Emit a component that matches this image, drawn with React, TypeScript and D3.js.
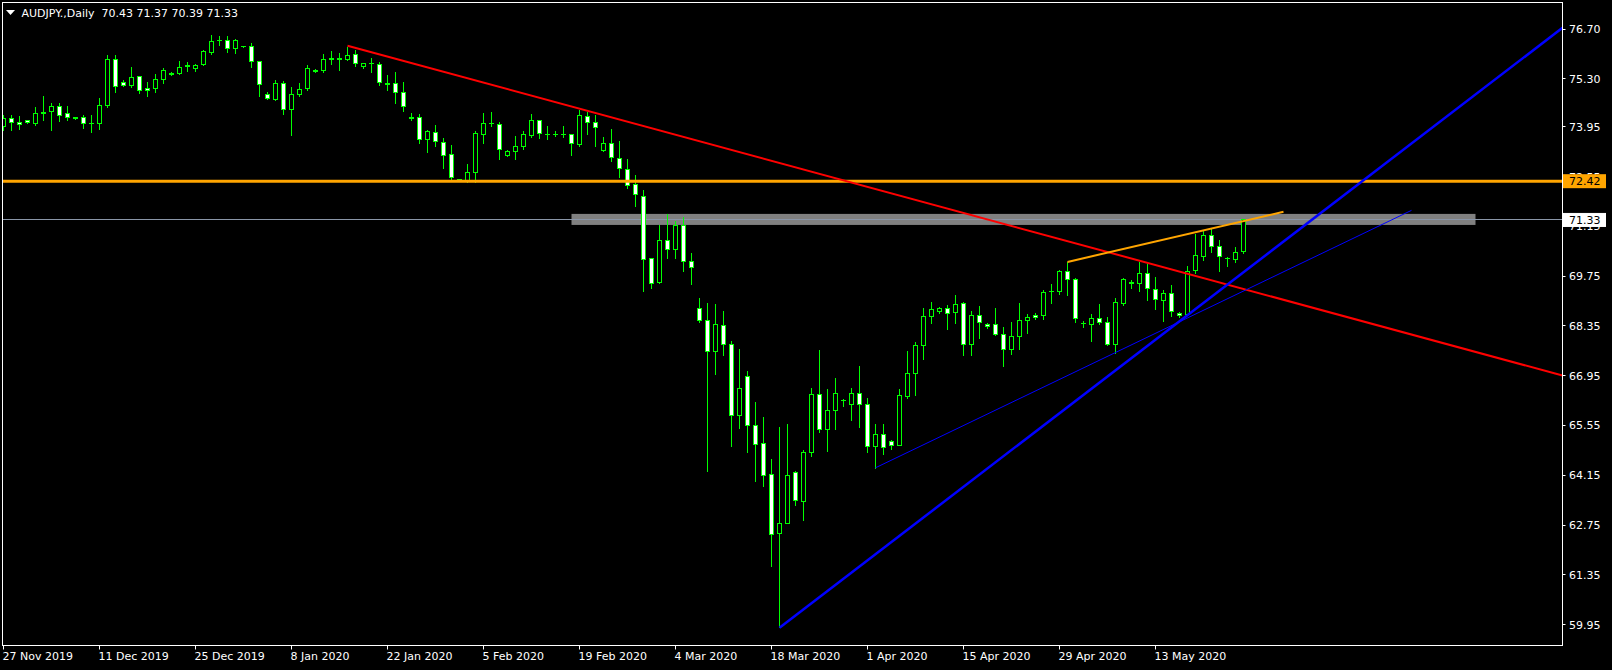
import React from 'react';
import * as d3 from 'd3';

// daily bars, 27 Nov 2019 .. 26 May 2020 (broker feed with Sunday bars)
const barOpen = [
  73.95, 74.19, 74.08, 74.13, 74.04, 74.33, 74.38, 74.51, 74.31, 74.22,
  74.20, 74.05, 74.05, 74.56, 75.85, 75.20, 75.10, 75.37, 75.04, 75.02,
  75.28, 75.46, 75.45, 75.64, 75.60, 75.70, 76.05, 76.38, 76.37, 76.16,
  76.21, 76.21, 75.80, 74.86, 74.73, 75.18, 74.45, 74.85, 75.02, 75.54,
  75.53, 75.85, 75.86, 75.84, 75.99, 75.65, 75.73, 75.71, 75.15, 75.17,
  74.92, 74.21, 74.22, 73.59, 73.80, 73.51, 73.18, 72.48, 72.45, 72.66,
  73.73, 74.03, 74.02, 73.15, 73.25, 73.39, 73.70, 74.13, 73.74, 73.73,
  73.74, 73.74, 73.45, 74.24, 74.07, 73.28, 73.48, 73.06, 72.75, 72.33,
  71.99, 70.25, 69.57, 70.74, 70.50, 71.18, 70.17, 68.84, 68.51, 67.63,
  68.35, 67.84, 65.83, 66.93, 65.55, 65.05, 64.18, 62.52, 62.80, 64.23,
  63.42, 64.79, 66.43, 65.44, 65.98, 66.25, 66.15, 66.45, 66.15, 64.96,
  65.30, 65.10, 64.99, 66.36, 67.02, 67.80, 68.62, 68.76, 68.84, 68.73,
  68.99, 67.83, 68.65, 68.40, 68.39, 68.11, 67.69, 68.06, 68.51, 68.65,
  68.65, 69.31, 69.31, 69.89, 69.66, 68.42, 68.39, 68.56, 68.45, 67.83,
  68.99, 69.55, 69.55, 69.83, 69.38, 69.06, 69.27, 68.70, 68.66, 69.90,
  70.30, 70.90, 70.59, 70.24, 70.21, 70.43,
];
const barHigh = [
  74.28, 74.28, 74.25, 74.14, 74.51, 74.82, 74.62, 74.62, 74.53, 74.23,
  74.28, 74.28, 74.75, 75.97, 75.97, 75.26, 75.63, 75.37, 75.20, 75.43,
  75.59, 75.49, 75.80, 75.76, 75.71, 76.11, 76.53, 76.50, 76.50, 76.43,
  76.22, 76.30, 75.80, 74.92, 75.27, 75.24, 75.06, 75.18, 75.69, 75.57,
  76.00, 76.08, 76.02, 76.20, 76.11, 75.75, 75.88, 75.78, 75.40, 75.49,
  75.20, 74.33, 74.31, 73.86, 74.00, 73.64, 73.44, 72.49, 72.91, 73.83,
  74.33, 74.36, 74.08, 73.30, 73.70, 73.84, 74.30, 74.13, 73.97, 73.83,
  73.97, 73.75, 74.42, 74.37, 74.28, 73.67, 73.88, 73.54, 73.03, 72.58,
  72.17, 70.25, 71.19, 71.49, 71.30, 71.41, 70.40, 69.14, 69.00, 68.97,
  68.76, 67.93, 67.70, 67.07, 66.21, 65.79, 64.61, 65.50, 65.59, 64.27,
  64.86, 66.61, 67.67, 66.57, 66.89, 66.29, 66.60, 67.22, 66.31, 65.59,
  65.59, 65.14, 66.58, 67.64, 67.89, 68.84, 69.02, 68.88, 68.93, 69.21,
  69.02, 68.77, 68.90, 68.43, 68.84, 68.31, 68.45, 69.00, 68.69, 68.70,
  69.36, 69.53, 69.92, 70.15, 69.69, 68.50, 68.69, 68.97, 68.59, 69.13,
  69.70, 69.63, 70.16, 70.09, 69.73, 69.36, 69.50, 68.75, 70.04, 70.93,
  71.02, 71.08, 70.77, 70.30, 70.56, 71.37,
];
const barLow = [
  73.86, 73.86, 73.90, 74.05, 74.01, 74.14, 73.86, 74.12, 74.14, 74.16,
  73.92, 73.79, 73.90, 74.52, 74.94, 75.10, 75.06, 74.91, 74.82, 74.94,
  75.17, 75.41, 75.43, 75.53, 75.52, 75.69, 76.00, 76.25, 76.05, 76.03,
  76.20, 75.64, 74.81, 74.74, 74.70, 74.31, 73.72, 74.81, 74.98, 75.48,
  75.50, 75.72, 75.55, 75.82, 75.67, 75.61, 75.50, 75.13, 74.98, 74.63,
  74.39, 74.14, 73.50, 73.25, 73.42, 72.78, 72.46, 72.45, 72.41, 72.41,
  73.50, 73.96, 73.04, 73.13, 73.04, 73.33, 73.65, 73.63, 73.60, 73.69,
  73.66, 73.16, 73.42, 73.75, 73.42, 73.28, 72.98, 72.53, 72.22, 71.72,
  69.34, 69.41, 69.57, 70.27, 70.27, 69.90, 69.53, 68.47, 64.28, 67.00,
  67.54, 64.98, 65.49, 64.79, 63.99, 63.86, 61.61, 59.87, 62.80, 63.30,
  62.88, 64.69, 65.38, 64.84, 65.44, 66.11, 65.69, 65.52, 64.81, 64.36,
  64.75, 64.89, 64.99, 66.33, 66.41, 67.43, 68.44, 68.70, 68.27, 68.44,
  67.54, 67.54, 68.02, 68.30, 68.09, 67.23, 67.57, 67.71, 68.16, 68.55,
  68.54, 68.99, 69.24, 69.21, 68.45, 68.33, 67.93, 68.41, 67.80, 67.60,
  68.95, 69.43, 69.34, 69.08, 68.83, 68.49, 68.63, 68.61, 68.66, 69.83,
  70.20, 70.44, 69.90, 70.04, 70.16, 70.39,
];
const barClose = [
  74.19, 74.08, 74.01, 74.07, 74.33, 74.36, 74.51, 74.26, 74.22, 74.18,
  74.05, 74.05, 74.55, 75.85, 75.08, 75.12, 75.34, 74.97, 74.97, 75.28,
  75.52, 75.42, 75.62, 75.67, 75.68, 76.07, 76.35, 76.39, 76.16, 76.38,
  76.21, 75.78, 75.14, 74.74, 75.18, 74.45, 74.86, 75.00, 75.59, 75.51,
  75.85, 75.86, 75.85, 75.96, 75.73, 75.72, 75.74, 75.20, 75.17, 74.91,
  74.53, 74.19, 73.60, 73.83, 73.54, 73.15, 72.51, 72.47, 72.67, 73.77,
  74.05, 74.04, 73.30, 73.26, 73.40, 73.74, 74.14, 73.76, 73.73, 73.74,
  73.72, 73.47, 74.26, 74.06, 73.92, 73.49, 73.09, 72.77, 72.30, 72.05,
  70.22, 69.55, 70.74, 70.50, 71.18, 70.16, 70.00, 68.50, 67.63, 68.38,
  67.83, 65.83, 66.60, 65.55, 65.02, 64.14, 62.49, 62.80, 64.15, 63.45,
  64.80, 66.43, 65.44, 65.98, 66.45, 66.24, 66.45, 66.15, 64.96, 65.30,
  64.94, 64.99, 66.40, 67.02, 67.80, 68.62, 68.82, 68.84, 68.70, 68.96,
  67.83, 68.65, 68.45, 68.34, 68.11, 67.69, 68.06, 68.51, 68.59, 68.59,
  69.30, 69.32, 69.89, 69.66, 68.56, 68.42, 68.56, 68.44, 67.83, 69.01,
  69.66, 69.56, 69.83, 69.41, 69.09, 69.27, 68.75, 68.65, 69.89, 70.34,
  70.90, 70.58, 70.30, 70.24, 70.42, 71.33,
];

const dateLabels = [
  '27 Nov 2019', '11 Dec 2019', '25 Dec 2019', '8 Jan 2020', '22 Jan 2020', '5 Feb 2020',
  '19 Feb 2020', '4 Mar 2020', '18 Mar 2020', '1 Apr 2020', '15 Apr 2020', '29 Apr 2020', '13 May 2020',
];
const dateLabelBars = [0, 12, 24, 36, 48, 60, 72, 84, 96, 108, 120, 132, 144];
const priceTicks = [76.70, 75.30, 73.95, 72.55, 71.15, 69.75, 68.35, 66.95, 65.55, 64.15, 62.75, 61.35, 59.95];

const symbolTitle = 'AUDJPY.,Daily';
const lastQuote = [70.43, 71.37, 70.39, 71.33];
const resistanceLevel = 72.42;
const bidPrice = 71.33;

// drawn objects, anchors as [bar index, price]
const redTrend = [[43, 76.23], [155, 69.39]];
const blueTrend = [[97, 59.86], [147, 68.48]];
const blueThin = [[109, 64.36], [176, 71.60]];
const orangeTrend = [[133, 70.15], [160, 71.56]];
const zoneBars = [71, 184];
const zonePrices = [71.19, 71.50];

const W = 1612;
const H = 670;
const plot = { left: 2.5, top: 2.5, right: 1562.5, bottom: 645.5 };
const FONT = '"DejaVu Sans", Tahoma, sans-serif';
const LIME = '#00ff00';

export default function App() {
  const n = barOpen.length;
  const x = d3.scaleLinear().domain([0, n - 1]).range([3.5, 3.5 + 8 * (n - 1)]);
  const y = d3.scaleLinear().domain([59.95, 76.70]).range([624.6, 29]);
  const snap = (v : number) => Math.round(v - 0.5) + 0.5;

  const trend = (pts : number[][], endBar? : number) => {
    const [[b1, p1], [b2, p2]] = pts;
    const slope = (p2 - p1) / (b2 - b1);
    const bEnd = endBar === undefined ? x.invert(plot.right) : endBar;
    return { x1: x(b1), y1: y(p1), x2: x(bEnd), y2: y(p1 + slope * (bEnd - b1)) };
  };

  const candles = d3.range(n).map(i => {
    const o = barOpen[i], c = barClose[i];
    const cx = x(i);
    const top = snap(y(Math.max(o, c)));
    const bot = snap(y(Math.min(o, c)));
    const bull = c >= o;
    return (
      <g key={i}>
        <line x1={cx} x2={cx} y1={Math.round(y(barHigh[i]))} y2={Math.round(y(barLow[i])) + 1} stroke={LIME} />
        {bot - top < 1
          ? <line x1={cx - 2.5} x2={cx + 2.5} y1={top} y2={top} stroke={LIME} />
          : <rect x={cx - 2} y={top} width={4} height={bot - top} fill={bull ? '#000' : '#fff'} stroke={LIME} />}
      </g>
    );
  });

  const red = trend(redTrend);
  const blue = trend(blueTrend);
  const thin = trend(blueThin, blueThin[1][0]);
  const orange = trend(orangeTrend, orangeTrend[1][0]);

  return (
    <svg width={W} height={H} style={{ position: 'absolute', left: 0, top: 0, display: 'block', background: '#000' }}
      fontFamily={FONT} fontSize={11}>
      <defs>
        <clipPath id="plotClip">
          <rect x={plot.left} y={plot.top} width={plot.right - plot.left} height={plot.bottom - plot.top} />
        </clipPath>
      </defs>
      <rect x={0} y={0} width={W} height={H} fill="#000" />

      {/* price axis labels (drawn under the level boxes) */}
      {priceTicks.map(p => (
        <g key={p}>
          <line x1={plot.right} x2={plot.right + 3} y1={snap(y(p))} y2={snap(y(p))} stroke="#fff" />
          <text x={1569} y={y(p) + 4} fill="#fff">{p.toFixed(2)}</text>
        </g>
      ))}

      <g clipPath="url(#plotClip)">
        <rect x={x(zoneBars[0])} y={y(zonePrices[1])} width={x(zoneBars[1]) - x(zoneBars[0])}
          height={y(zonePrices[0]) - y(zonePrices[1])} fill="#808080" />
        <line x1={plot.left} x2={plot.right} y1={snap(y(bidPrice))} y2={snap(y(bidPrice))} stroke="#8a96a8" />
        <g shapeRendering="crispEdges">{candles}</g>
        <line x1={plot.left} x2={plot.right} y1={y(resistanceLevel)} y2={y(resistanceLevel)} stroke="#ffa500" strokeWidth={3} />
        <line {...red} stroke="#ff0000" strokeWidth={2} />
        <line {...blue} stroke="#0000ff" strokeWidth={2.5} />
        <line {...thin} stroke="#0000ff" strokeWidth={1} />
        <line {...orange} stroke="#ffa500" strokeWidth={2} />
      </g>

      {/* frame */}
      <rect x={plot.left} y={plot.top} width={plot.right - plot.left} height={plot.bottom - plot.top}
        fill="none" stroke="#fff" shapeRendering="crispEdges" />

      {/* level boxes on the price axis */}
      <rect x={1563} y={y(resistanceLevel) - 7} width={43} height={14} fill="#ffa500" />
      <text x={1569} y={y(resistanceLevel) + 4} fill="#000">{resistanceLevel.toFixed(2)}</text>
      <rect x={1563.5} y={y(bidPrice) - 6.5} width={42} height={13} fill="#fff" stroke="#fff" />
      <text x={1569} y={y(bidPrice) + 4} fill="#000">{bidPrice.toFixed(2)}</text>

      {/* time axis */}
      {dateLabels.map((d, k) => {
        const tx = x(dateLabelBars[k]);
        return (
          <g key={d}>
            <line x1={tx} x2={tx} y1={plot.bottom} y2={plot.bottom + 4} stroke="#fff" />
            <text x={tx - 1} y={660} fill="#fff">{d}</text>
          </g>
        );
      })}

      {/* title */}
      <path d="M6,10 L15,10 L10.5,15 Z" fill="#fff" />
      <text x={21.5} y={16.5} fill="#fff">
        {`${symbolTitle}\u00a0\u00a0${lastQuote.map(v => v.toFixed(2)).join(' ')}`}
      </text>
    </svg>
  );
}
